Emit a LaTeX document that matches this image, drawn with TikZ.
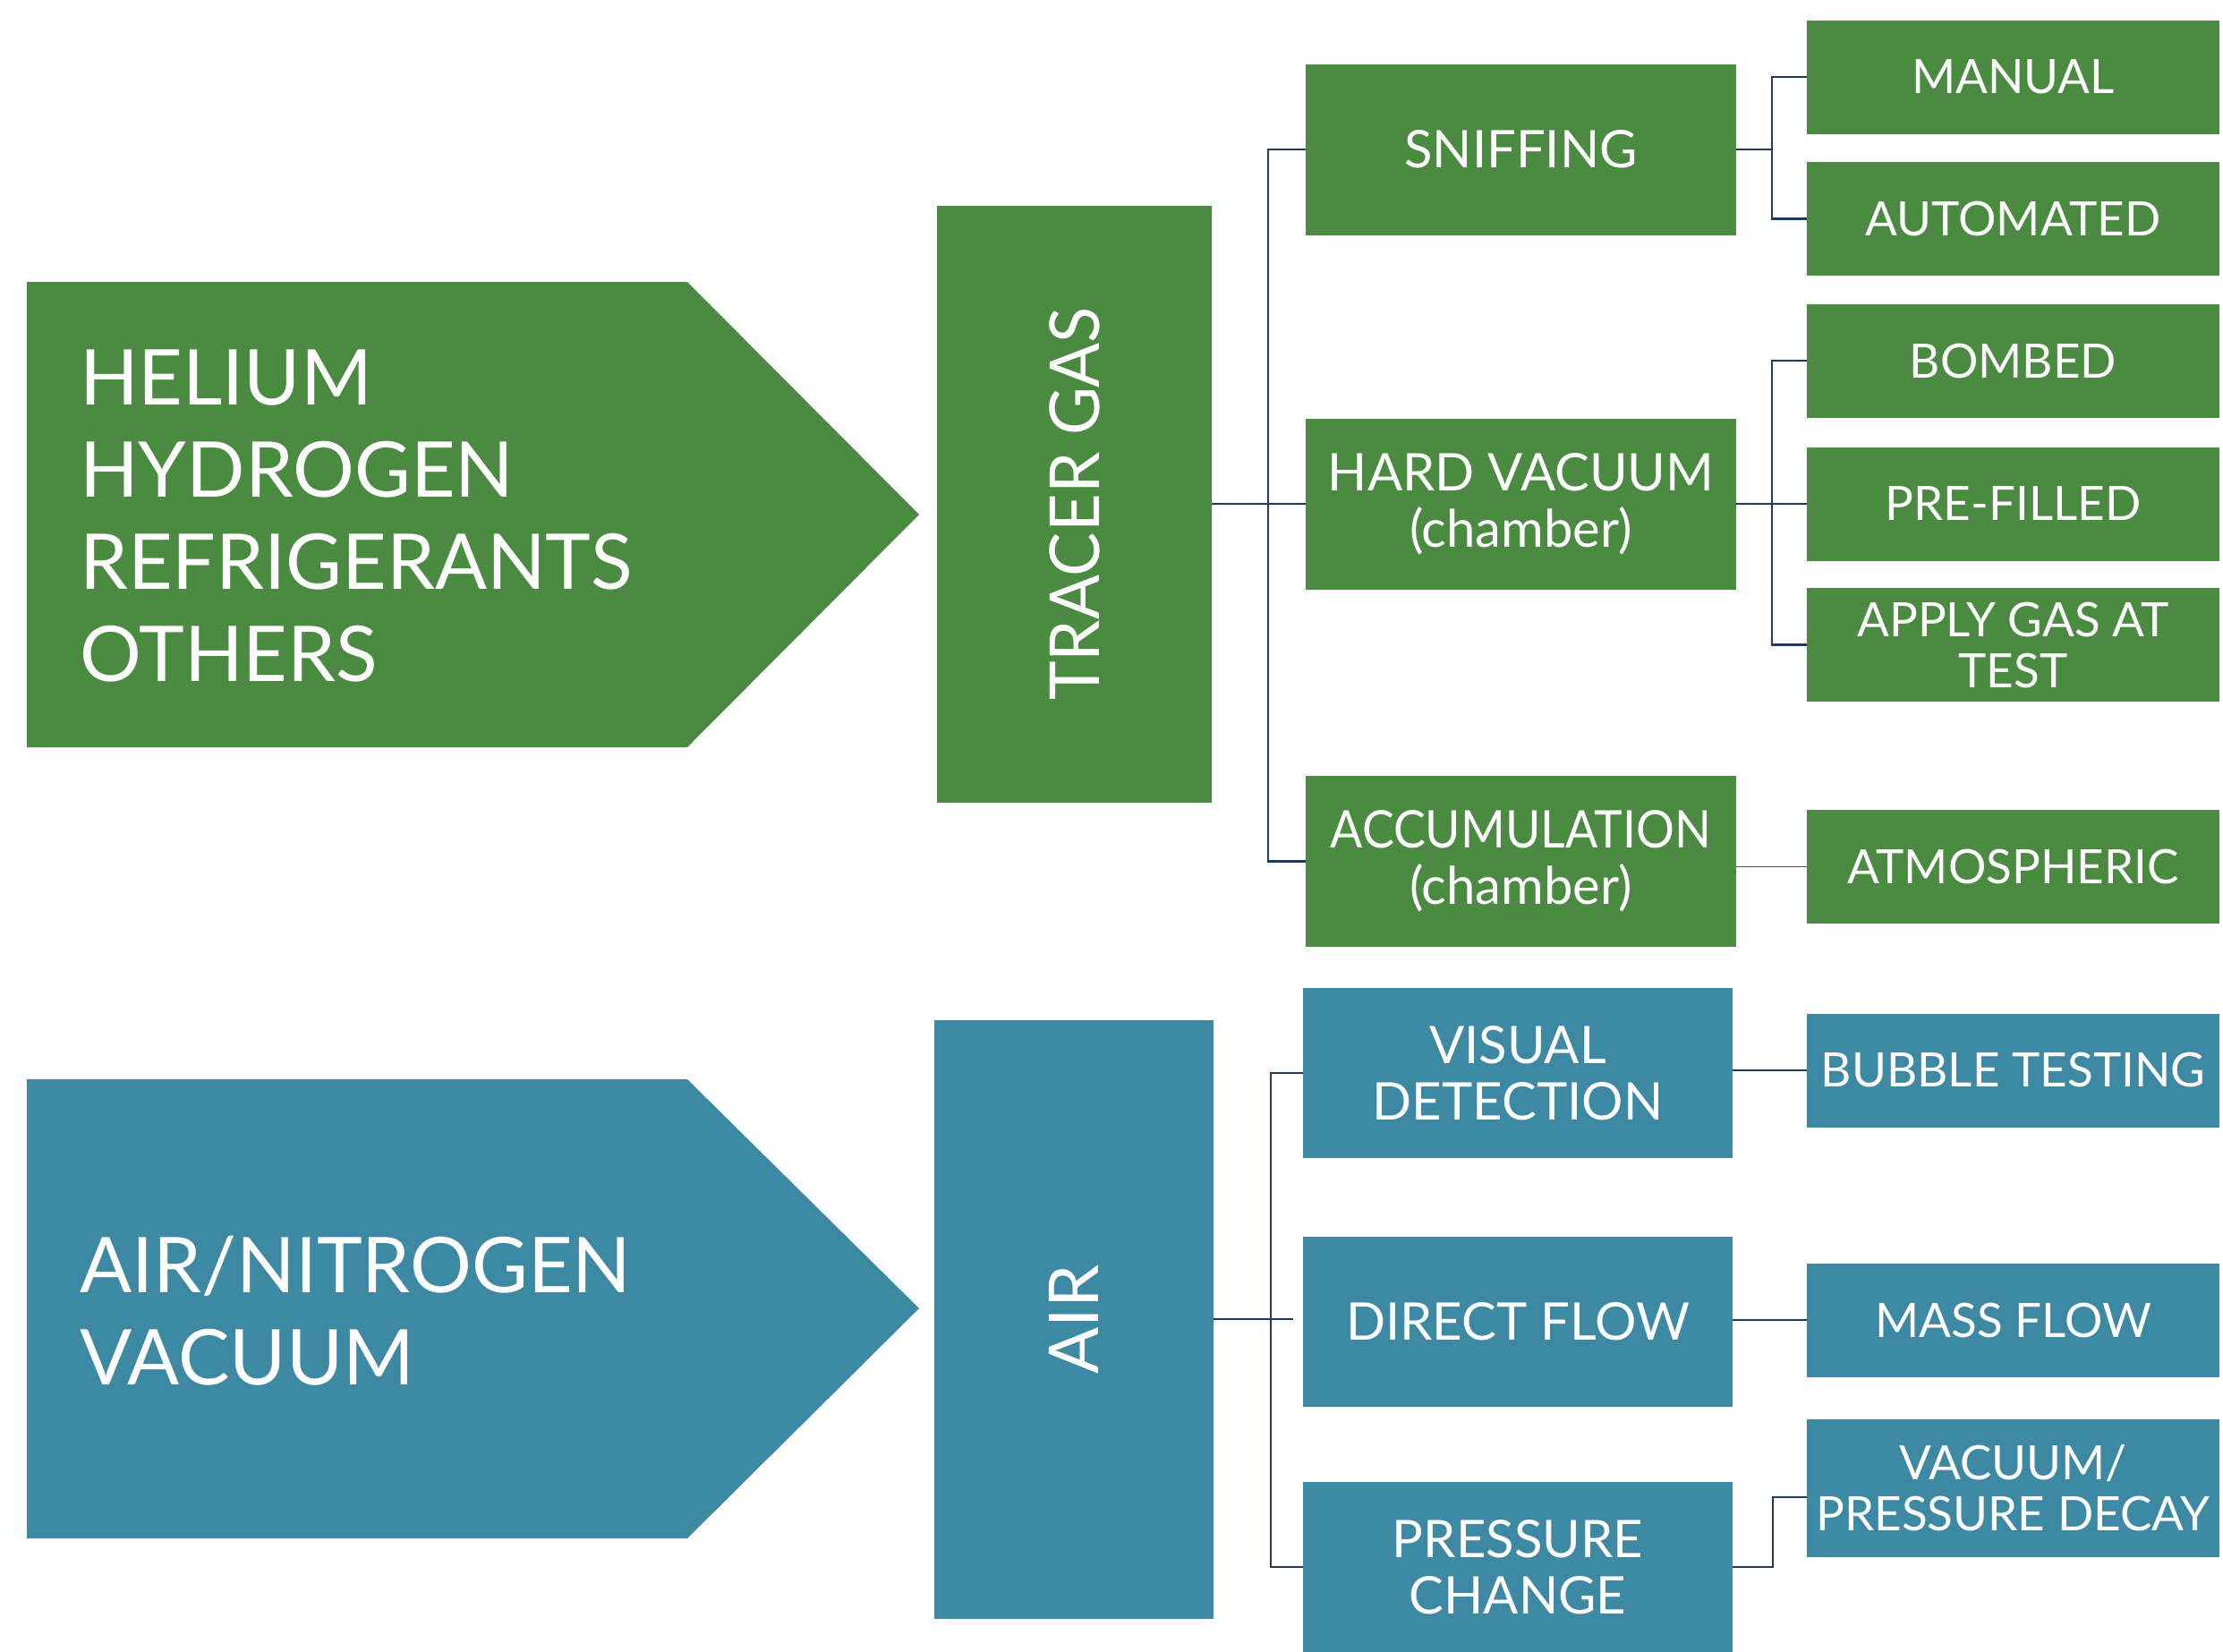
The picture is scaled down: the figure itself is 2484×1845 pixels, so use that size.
\documentclass[tikz,border=0pt]{standalone}
\usepackage{fontspec}
\setmainfont{Lato}
\definecolor{leafgreen}{HTML}{4A8A41}
\definecolor{tealblue}{HTML}{3D88A3}
\definecolor{navy}{HTML}{1F3864}
\definecolor{slateline}{HTML}{44546A}
\tikzset{
  box/.style={rectangle, inner sep=0pt, text=white, align=center},
  gbox/.style={box, fill=leafgreen},
  bbox/.style={box, fill=tealblue},
  bigtext/.style={font=\fontsize{86}{103}\selectfont},
  midtext/.style={font=\fontsize{58}{63}\selectfont},
  subtext/.style={font=\fontsize{53}{57}\selectfont},
  midsize/.style={minimum width=481pt, minimum height=191pt},
  subsize/.style={minimum width=461pt, minimum height=127pt},
  link/.style={draw=navy, line width=2.6pt},
  softlink/.style={draw=slateline, line width=1.8pt},
}
\begin{document}
\begin{tikzpicture}[x=1pt, y=-1pt]
\useasboundingbox (0,0) rectangle (2484,1845);

% ---- gases group (green) ----
\fill[leafgreen] (30,315) -- (768,315) -- (1027,575) -- (768,835) -- (30,835) -- cycle;
\node[box, bigtext, align=left, anchor=west] (gases) at (89,577)
  {HELIUM\\HYDROGEN\\REFRIGERANTS\\OTHERS};

\node[gbox, minimum width=307pt, minimum height=667pt] (tracer) at (1200.5,563)
  {\rotatebox{90}{\fontsize{77}{90}\selectfont\scalebox{0.96}[1]{TRACER GAS}}};

\node[gbox, midsize, midtext] (sniff) at (1699.5,167) {SNIFFING};
\node[gbox, midsize, midtext] (hv)    at (1699.5,563) {HARD VACUUM\\(chamber)};
\node[gbox, midsize, midtext] (acc)   at (1699.5,962.5) {\scalebox{0.925}[1]{ACCUMULATION}\\(chamber)};

\node[gbox, subsize, subtext] (manual)  at (2249.5,86)    {MANUAL};
\node[gbox, subsize, subtext] (auto)    at (2249.5,244.5) {AUTOMATED};
\node[gbox, subsize, subtext] (bombed)  at (2249.5,403)   {BOMBED};
\node[gbox, subsize, subtext] (prefill) at (2249.5,563)   {PRE-FILLED};
\node[gbox, subsize, subtext] (apply)   at (2249.5,720.5) {APPLY GAS AT\\TEST};
\node[gbox, subsize, subtext] (atmos)   at (2249.5,968.5) {ATMOSPHERIC};

% ---- air group (blue) ----
\fill[tealblue] (30,1206) -- (768,1206) -- (1027,1462) -- (768,1719) -- (30,1719) -- cycle;
\node[box, bigtext, align=left, anchor=west] (airgas) at (89,1465)
  {AIR/NITROGEN\\VACUUM};

\node[bbox, minimum width=312pt, minimum height=669pt] (air) at (1200,1474.5)
  {\rotatebox{90}{\fontsize{77}{90}\selectfont AIR}};

\node[bbox, minimum width=480pt, minimum height=190pt, midtext] (vis) at (1696,1199) {VISUAL\\DETECTION};
\node[bbox, minimum width=480pt, minimum height=190pt, midtext] (dir) at (1696,1477) {DIRECT FLOW};
\node[bbox, minimum width=480pt, minimum height=190pt, midtext] (pc)  at (1696,1751) {PRESSURE\\CHANGE};

\node[bbox, subsize, subtext] (bubble) at (2249.5,1196) {BUBBLE TESTING};
\node[bbox, subsize, subtext] (mass)   at (2249.5,1475) {MASS FLOW};
\node[bbox, minimum width=461pt, minimum height=154pt, subtext] (vac) at (2249.5,1663)
  {VACUUM/\\PRESSURE DECAY};

% ---- connectors ----
\coordinate (sj) at (1980,167);
\coordinate (hj) at (1980,563);
\coordinate (aend) at (1445,1474);
\coordinate (vj) at (1981,1673);

\draw[link] (tracer.east) -- (hv.west);
\draw[link] (sniff.west) -- ++(-42,0) |- (acc.west);
\draw[link] (sniff.east) -- (sj);
\draw[link] (manual.west) -| (sj) |- (auto.west);
\draw[link] (hv.east) -- (prefill.west);
\draw[link] (bombed.west) -| (hj) |- (apply.west);
\draw[softlink] (acc.east |- atmos.west) -- (atmos.west);

\draw[link] (air.east |- aend) -- (aend);
\draw[link] (vis.west) -- ++(-36,0) |- (pc.west);
\draw[link] (vis.east |- bubble.west) -- (bubble.west);
\draw[link] (dir.east |- mass.west) -- (mass.west);
\draw[link] (pc.east) -| (vj) -- (vac.west |- vj);
\end{tikzpicture}
\end{document}
